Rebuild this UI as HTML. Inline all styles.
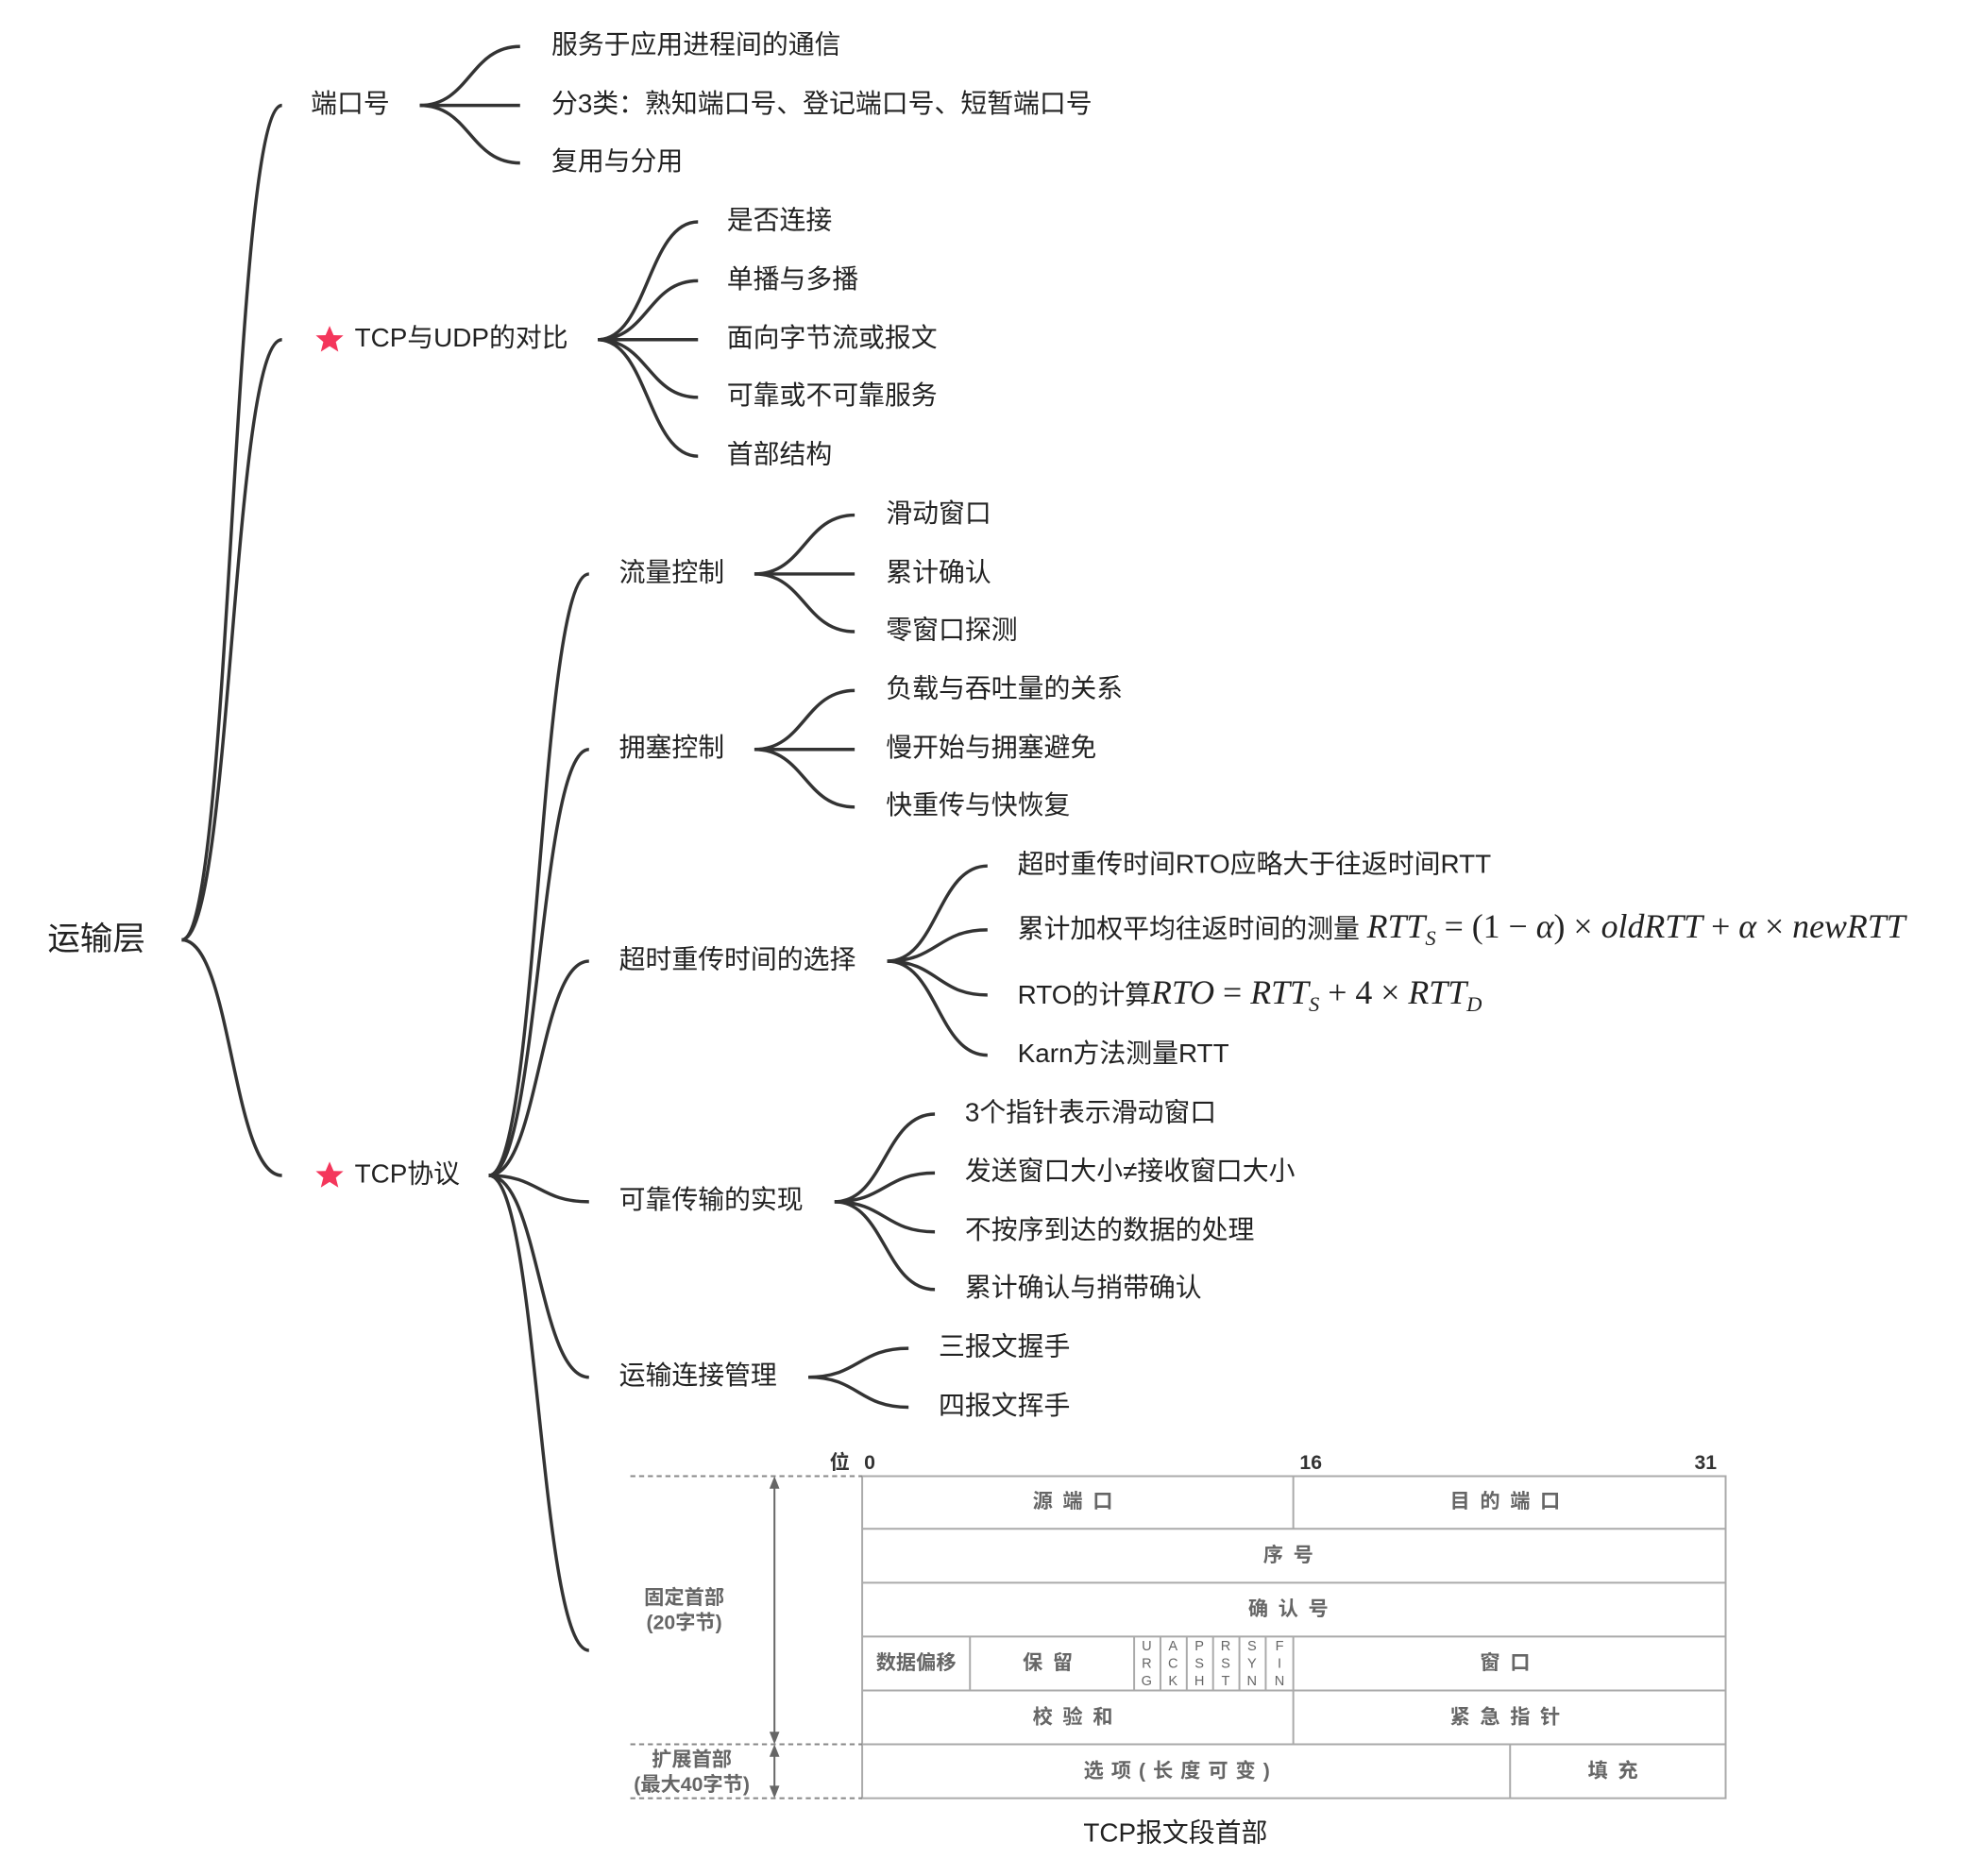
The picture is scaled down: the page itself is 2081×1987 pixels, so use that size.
<!DOCTYPE html>
<html><head><meta charset="utf-8"><style>
html,body{margin:0;padding:0;background:#fff;width:2081px;height:1987px;overflow:hidden}
svg{display:block}
text{font-family:"Liberation Sans","Noto Sans CJK SC",sans-serif;fill:#222}
.t{font-size:21px;dominant-baseline:middle}
.m{font-family:"Liberation Serif","DejaVu Serif",serif;font-style:italic;font-size:27px}
.r{font-family:"Liberation Serif","DejaVu Serif",serif;font-size:27px}
.g{fill:#666;font-weight:bold;font-size:16px;dominant-baseline:middle;text-anchor:middle}
.f{fill:#666;font-size:11px;dominant-baseline:middle;text-anchor:middle}
.c{fill:none;stroke:#333;stroke-width:2.6}
.tb{stroke:#aaa;stroke-width:1.5;fill:none}
</style></head><body>
<svg width="2081" height="1987" viewBox="0 -2 1568 1497" xmlns="http://www.w3.org/2000/svg">
<defs><path id="star" d="M0,-11 L3.2,-3.6 11,-3.4 5,1.8 7,9.6 0,5.2 -7,9.6 -5,1.8 -11,-3.4 -3.2,-3.6Z" fill="#f4365b"/></defs>
<text x="38" y="749" style="font-size:26px;dominant-baseline:middle">运输层</text>
<g class="c">
<path d="M145,748 C185,748 185,82 225,82"/>
<path d="M145,748 C185,748 185,269 225,269"/>
<path d="M145,748 C185,748 185,936 225,936"/>
<path d="M335,82 C375,82 375,35 415,35"/>
<path d="M335,82 L415,82"/>
<path d="M335,82 C375,82 375,128 415,128"/>
<path d="M477,269 C517,269 517,175 557,175"/>
<path d="M477,269 C517,269 517,222 557,222"/>
<path d="M477,269 L557,269"/>
<path d="M477,269 C517,269 517,315 557,315"/>
<path d="M477,269 C517,269 517,362 557,362"/>
<path d="M390,936 C430,936 430,456 470,456"/>
<path d="M390,936 C430,936 430,596 470,596"/>
<path d="M390,936 C430,936 430,765 470,765"/>
<path d="M390,936 C430,936 430,957 470,957"/>
<path d="M390,936 C430,936 430,1097 470,1097"/>
<path d="M390,936 C430,936 430,1315 470,1315"/>
<path d="M602,456 C642,456 642,409 682,409"/><path d="M602,456 L682,456"/><path d="M602,456 C642,456 642,502 682,502"/>
<path d="M602,596 C642,596 642,549 682,549"/><path d="M602,596 L682,596"/><path d="M602,596 C642,596 642,642 682,642"/>
<path d="M708,765 C748,765 748,689 788,689"/><path d="M708,765 C748,765 748,740 788,740"/><path d="M708,765 C748,765 748,792 788,792"/><path d="M708,765 C748,765 748,840 788,840"/>
<path d="M666,957 C706,957 706,887 746,887"/><path d="M666,957 C706,957 706,934 746,934"/><path d="M666,957 C706,957 706,981 746,981"/><path d="M666,957 C706,957 706,1027 746,1027"/>
<path d="M645,1097 C685,1097 685,1074 725,1074"/><path d="M645,1097 C685,1097 685,1121 725,1121"/>
</g>
<text class="t" x="248" y="82">端口号</text>
<text class="t" x="440" y="35">服务于应用进程间的通信</text>
<text class="t" x="440" y="82">分3类：熟知端口号、登记端口号、短暂端口号</text>
<text class="t" x="440" y="128">复用与分用</text>
<use href="#star" x="263" y="269"/>
<text class="t" x="283" y="269">TCP与UDP的对比</text>
<text class="t" x="580" y="175">是否连接</text>
<text class="t" x="580" y="222">单播与多播</text>
<text class="t" x="580" y="269">面向字节流或报文</text>
<text class="t" x="580" y="315">可靠或不可靠服务</text>
<text class="t" x="580" y="362">首部结构</text>
<use href="#star" x="263" y="936"/>
<text class="t" x="283" y="936">TCP协议</text>
<text class="t" x="494" y="456">流量控制</text>
<text class="t" x="707" y="409">滑动窗口</text>
<text class="t" x="707" y="456">累计确认</text>
<text class="t" x="707" y="502">零窗口探测</text>
<text class="t" x="494" y="596">拥塞控制</text>
<text class="t" x="707" y="549">负载与吞吐量的关系</text>
<text class="t" x="707" y="596">慢开始与拥塞避免</text>
<text class="t" x="707" y="642">快重传与快恢复</text>
<text class="t" x="494" y="765">超时重传时间的选择</text>
<text class="t" x="812" y="689">超时重传时间RTO应略大于往返时间RTT</text>
<text x="812" y="746" style="font-size:21px">累计加权平均往返时间的测量 <tspan class="m">RTT</tspan><tspan class="m" style="font-size:17px" dy="6">S</tspan><tspan dy="-6" class="r"> = (1 − </tspan><tspan class="m">α</tspan><tspan class="r">) × </tspan><tspan class="m">oldRTT</tspan><tspan class="r"> + </tspan><tspan class="m">α</tspan><tspan class="r"> × </tspan><tspan class="m">newRTT</tspan></text>
<text x="812" y="799" style="font-size:21px">RTO的计算<tspan class="m">RTO</tspan><tspan class="r"> = </tspan><tspan class="m">RTT</tspan><tspan class="m" style="font-size:17px" dy="6">S</tspan><tspan dy="-6" class="r"> + 4 × </tspan><tspan class="m">RTT</tspan><tspan class="m" style="font-size:17px" dy="6">D</tspan></text>
<text class="t" x="812" y="840">Karn方法测量RTT</text>
<text class="t" x="494" y="957">可靠传输的实现</text>
<text class="t" x="770" y="887">3个指针表示滑动窗口</text>
<text class="t" x="770" y="934">发送窗口大小≠接收窗口大小</text>
<text class="t" x="770" y="981">不按序到达的数据的处理</text>
<text class="t" x="770" y="1027">累计确认与捎带确认</text>
<text class="t" x="494" y="1097">运输连接管理</text>
<text class="t" x="749" y="1074">三报文握手</text>
<text class="t" x="749" y="1121">四报文挥手</text>
<g class="tb">
<rect x="688" y="1176" width="689" height="257"/>
<path d="M688,1218H1377M688,1261H1377M688,1304H1377M688,1347H1377M688,1390H1377"/>
<path d="M1032,1176V1218M1032,1304V1390M1205,1390V1433M774,1304V1347M905,1304V1347M926,1304V1347M947,1304V1347M968,1304V1347M989,1304V1347M1010,1304V1347"/>
<path d="M503,1176H688M503,1390H688M503,1433H688" stroke-dasharray="4,3" stroke="#888"/>
</g>
<g stroke="#666" stroke-width="1.5" fill="#666">
<path d="M618,1180V1386M618,1394V1429" fill="none"/>
<path d="M614,1186L618,1176 622,1186Z M614,1380L618,1390 622,1380Z M614,1400L618,1390 622,1400Z M614,1423L618,1433 622,1423Z" stroke="none"/>
</g>
<text class="g" x="670" y="1166" style="fill:#333">位</text>
<text class="g" x="694" y="1166" style="fill:#333">0</text>
<text class="g" x="1046" y="1166" style="fill:#333">16</text>
<text class="g" x="1361" y="1166" style="fill:#333">31</text>
<text class="g" x="860" y="1197" style="letter-spacing:8px">源端口</text>
<text class="g" x="1205" y="1197" style="letter-spacing:8px">目的端口</text>
<text class="g" x="1032" y="1240" style="letter-spacing:8px">序号</text>
<text class="g" x="1032" y="1283" style="letter-spacing:8px">确认号</text>
<text class="g" x="731" y="1326">数据偏移</text>
<text class="g" x="840" y="1326" style="letter-spacing:8px">保留</text>
<text class="f" x="915" y="1312">U</text><text class="f" x="915" y="1326">R</text><text class="f" x="915" y="1340">G</text>
<text class="f" x="936" y="1312">A</text><text class="f" x="936" y="1326">C</text><text class="f" x="936" y="1340">K</text>
<text class="f" x="957" y="1312">P</text><text class="f" x="957" y="1326">S</text><text class="f" x="957" y="1340">H</text>
<text class="f" x="978" y="1312">R</text><text class="f" x="978" y="1326">S</text><text class="f" x="978" y="1340">T</text>
<text class="f" x="999" y="1312">S</text><text class="f" x="999" y="1326">Y</text><text class="f" x="999" y="1340">N</text>
<text class="f" x="1021" y="1312">F</text><text class="f" x="1021" y="1326">I</text><text class="f" x="1021" y="1340">N</text>
<text class="g" x="1205" y="1326" style="letter-spacing:8px">窗口</text>
<text class="g" x="860" y="1369" style="letter-spacing:8px">校验和</text>
<text class="g" x="1205" y="1369" style="letter-spacing:8px">紧急指针</text>
<text class="g" x="942" y="1412" style="letter-spacing:6px">选项(长度可变)</text>
<text class="g" x="1291" y="1412" style="letter-spacing:8px">填充</text>
<text class="g" x="546" y="1274">固定首部</text>
<text class="g" x="546" y="1294">(20字节)</text>
<text class="g" x="552" y="1403">扩展首部</text>
<text class="g" x="552" y="1423">(最大40字节)</text>
<text class="t" x="938" y="1462" style="text-anchor:middle">TCP报文段首部</text>
</svg>
</body></html>
